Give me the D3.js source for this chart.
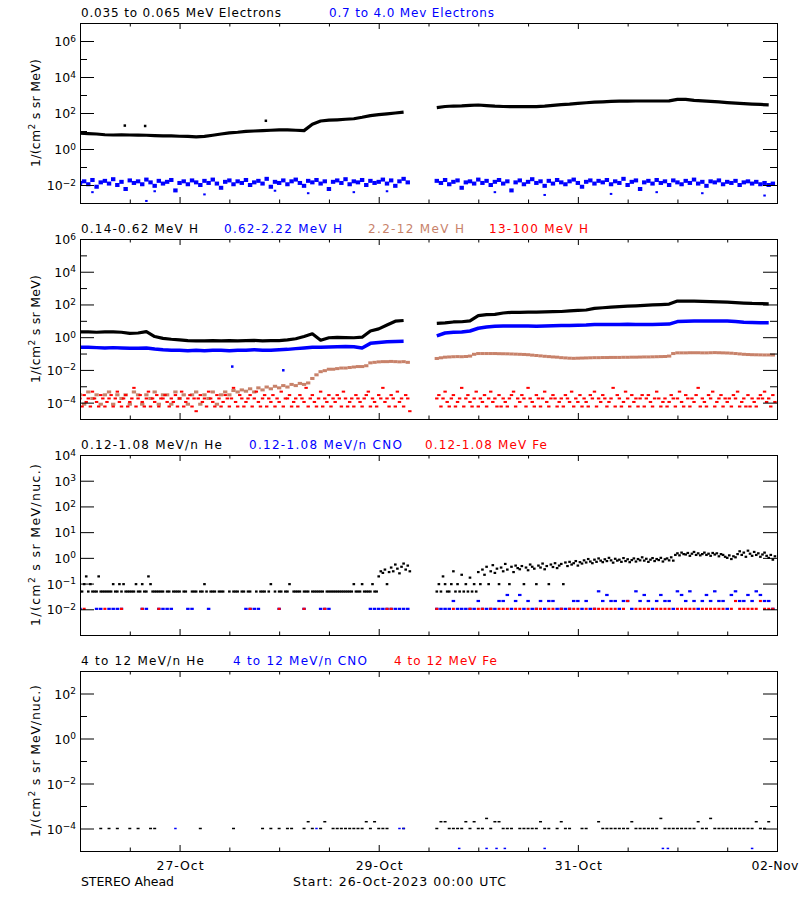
<!DOCTYPE html>
<html><head><meta charset="utf-8">
<script src="https://cdn.jsdelivr.net/npm/d3@7"></script>
<style>
html,body{margin:0;padding:0;background:#fff;}
svg text{font-family:"DejaVu Sans",sans-serif;}
</style></head><body>
<svg id="chart" width="800" height="900"></svg>
<script>
// ---------------- time base ----------------
const START = Date.UTC(2023, 9, 26);   // 26-Oct-2023 00:00 UTC
const END   = Date.UTC(2023, 10, 2);   // 02-Nov-2023 00:00 UTC
const PRE_T0 = 0;    // hour of first sample before the data gap
const POST_T0 = 86;  // hour of first sample after the data gap

// ---------------- tick labels ----------------
const xMajorHours = [24, 72, 120, 168];
const xMajorLabels = ["27-Oct", "29-Oct", "31-Oct", "02-Nov"];
const xMinorHours = [12, 36, 48, 60, 84, 96, 108, 132, 144, 156];

// ---------------- panel 1 : electrons ----------------
// 0.035-0.065 MeV electrons, 2-hour samples
const eLoPre = [7.5,7.2,6.8,6.2,6.0,6.2,6.0,5.9,5.8,5.5,5.3,5.3,5.1,5.0,4.7,5.0,5.8,6.8,7.8,8.5,
  9.5,10,10.5,11,11.5,11.5,11,10.5,24,36,40,42,45,48,58,72,82,90,100,112];
const eLoPost = [200,230,244,250,265,278,260,240,230,228,225,225,228,240,265,290,310,340,370,400,
  420,440,455,462,465,465,465,465,470,575,570,500,470,440,410,380,355,330,310,298,285];
const eLoSpikes = [[10.8,20],[15.7,19],[44.8,37]];
// 0.7-4.0 MeV electrons, 1-hour samples
const eHiPre = [0.013,0.016,0.011,0.019,0.008,0.014,0.017,0.012,0.021,0.010,
  0.015,0.006,0.018,0.013,0.016,0.011,0.020,0.014,0.009,0.017,
  0.012,0.015,0.019,0.005,0.013,0.016,0.011,0.018,0.014,0.010,
  0.017,0.013,0.020,0.012,0.007,0.015,0.018,0.011,0.016,0.013,
  0.019,0.010,0.014,0.017,0.012,0.022,0.008,0.015,0.013,0.018,
  0.011,0.016,0.020,0.013,0.009,0.017,0.014,0.019,0.012,0.016,
  0.006,0.015,0.018,0.013,0.021,0.011,0.016,0.014,0.019,0.010,
  0.017,0.013,0.015,0.020,0.012,0.018,0.009,0.016,0.022,0.014];
const eHiPost = [0.017,0.013,0.019,0.011,0.015,0.018,0.007,0.014,0.016,0.012,
  0.020,0.013,0.017,0.010,0.015,0.019,0.012,0.016,0.005,0.014,
  0.018,0.011,0.015,0.021,0.013,0.016,0.009,0.017,0.012,0.019,
  0.014,0.011,0.016,0.020,0.013,0.008,0.015,0.018,0.012,0.017,
  0.014,0.019,0.011,0.016,0.013,0.022,0.010,0.015,0.018,0.006,
  0.014,0.017,0.012,0.019,0.013,0.016,0.010,0.018,0.014,0.011,
  0.017,0.013,0.020,0.012,0.015,0.009,0.016,0.014,0.018,0.011,
  0.015,0.013,0.017,0.010,0.014,0.016,0.012,0.015,0.011,0.013,
  0.010,0.012];
const eHiLow = [[3,0.004],[16,0.0013],[18,0.0045],[30,0.003],[47,0.0048],[55,0.0035],[66,0.004],
  [74,0.0045],[100,0.004],[112,0.0028],[128,0.0032],[139,0.004],[150,0.0035],[165,0.0026]];

// ---------------- panel 2 : protons ----------------
// 0.14-0.62 MeV H, 2-hour samples
const hLoPre = [2.1,2.1,2.0,2.1,2.1,2.0,1.7,1.8,2.2,1.1,0.85,0.75,0.68,0.62,0.6,0.6,0.62,0.6,0.62,0.6,
  0.62,0.63,0.6,0.62,0.62,0.68,0.8,1.1,1.6,0.65,0.92,0.98,0.95,0.92,1.0,2.4,3.2,5.5,9.5,10.5];
const hLoPost = [7,7.5,8.5,8.8,10,21,24,25,30,33,33,34,34,35,36,37,40,43,46,58,
  63,68,73,78,83,88,93,98,105,162,160,158,155,150,145,138,130,122,115,112,110];
// 0.62-2.22 MeV H, 2-hour samples
const hMidPre = [0.24,0.24,0.23,0.22,0.23,0.22,0.21,0.21,0.22,0.19,0.17,0.16,0.16,0.15,0.16,0.15,0.16,0.16,0.15,0.16,
  0.16,0.17,0.16,0.16,0.17,0.18,0.2,0.22,0.24,0.24,0.25,0.26,0.27,0.26,0.22,0.42,0.48,0.52,0.55,0.56];
const hMidPost = [1.2,1.8,2.0,2.1,2.4,3.5,4.2,4.7,4.8,4.8,4.9,4.9,4.7,4.8,5.0,5.1,5.2,5.4,5.5,5.9,
  6.0,6.0,6.0,6.1,6.0,6.0,6.0,6.1,6.3,9.0,9.5,9.7,9.8,9.8,9.9,9.7,9.0,8.3,7.9,7.7,7.6];
const hMidOut = [[36.7,0.016],[49,0.0095]];
// 2.2-12 MeV H, 1-hour samples
const hHiPre = [3e-4,8e-5,4.5e-4,1.8e-4,3e-4,8e-5,3e-4,4.5e-4,8e-5,3e-4,
  1.8e-4,3e-4,8e-5,4.5e-4,3e-4,8e-5,3e-4,1.8e-4,4.5e-4,8e-5,
  3e-4,3e-4,8e-5,4.5e-4,1.8e-4,3e-4,8e-5,3e-4,4.5e-4,8e-5,
  3e-4,1.8e-4,4.5e-4,8e-5,3e-4,4.5e-4,3e-4,5.5e-4,4.5e-4,6e-4,
  5e-4,7e-4,4.5e-4,8e-4,6e-4,9e-4,7e-4,1e-3,8e-4,1.1e-3,
  9e-4,1.3e-3,1.1e-3,1.5e-3,1.3e-3,1.6e-3,3e-3,5e-3,7.8e-3,9e-3,
  0.011,0.011,0.012,0.013,0.013,0.014,0.015,0.016,0.016,0.018,
  0.027,0.029,0.031,0.032,0.032,0.033,0.032,0.031,0.032,0.029];
const hHiPost = [0.05,0.055,0.06,0.062,0.064,0.065,0.064,0.066,0.07,0.09,
  0.1,0.1,0.1,0.1,0.1,0.098,0.097,0.096,0.094,0.092,
  0.09,0.088,0.085,0.08,0.076,0.072,0.068,0.065,0.062,0.06,
  0.056,0.054,0.052,0.051,0.052,0.053,0.054,0.055,0.056,0.056,
  0.057,0.057,0.058,0.058,0.058,0.059,0.059,0.06,0.06,0.061,
  0.062,0.062,0.063,0.064,0.065,0.066,0.07,0.1,0.11,0.11,
  0.11,0.112,0.112,0.112,0.11,0.11,0.112,0.114,0.112,0.11,
  0.108,0.105,0.1,0.095,0.09,0.087,0.085,0.084,0.083,0.082,
  0.082,0.081];
// 13-100 MeV H, 30-minute samples
const hTopPre = [1.8e-4,5.8e-5,2.9e-4,1.1e-4,1.8e-4,5.8e-5,4.7e-4,1.8e-4,1.1e-4,5.8e-5,
  2.9e-4,1.8e-4,5.8e-5,1.1e-4,1.8e-4,2.9e-4,5.8e-5,1.8e-4,4.7e-4,1.1e-4,
  5.8e-5,1.8e-4,2.9e-4,5.8e-5,1.1e-4,1.8e-4,8e-4,5.8e-5,1.8e-4,2.9e-4,
  1.1e-4,5.8e-5,1.8e-4,4.7e-4,5.8e-5,1.8e-4,1.1e-4,2.9e-4,5.8e-5,1.8e-4,
  1.8e-4,2.9e-4,1.1e-4,5.8e-5,1.8e-4,1.1e-4,2.9e-4,5.8e-5,1.8e-4,4.7e-4,
  5.8e-5,1.1e-4,1.8e-4,2.9e-4,5.8e-5,1.8e-4,3e-5,1.8e-4,2.9e-4,1.1e-4,
  1.8e-4,5.8e-5,4.7e-4,1.8e-4,1.1e-4,5.8e-5,2.9e-4,1.8e-4,5.8e-5,1.1e-4,
  2.9e-4,1.8e-4,5.8e-5,1.8e-4,8e-4,1.1e-4,5.8e-5,2.9e-4,1.8e-4,5.8e-5,
  1.1e-4,1.8e-4,2.9e-4,5.8e-5,1.8e-4,4.7e-4,1.1e-4,5.8e-5,1.8e-4,2.9e-4,
  5.8e-5,1.8e-4,1.1e-4,2.9e-4,5.8e-5,1.8e-4,1.1e-4,4.7e-4,5.8e-5,1.8e-4,
  1.8e-4,2.9e-4,5.8e-5,1.1e-4,1.8e-4,5.8e-5,2.9e-4,1.8e-4,1.1e-4,8e-4,
  5.8e-5,1.8e-4,2.9e-4,1.1e-4,5.8e-5,1.8e-4,4.7e-4,5.8e-5,1.8e-4,1.1e-4,
  2.9e-4,5.8e-5,1.8e-4,1.1e-4,2.9e-4,1.8e-4,5.8e-5,4.7e-4,1.8e-4,5.8e-5,
  1.1e-4,1.8e-4,5.8e-5,2.9e-4,1.8e-4,1.1e-4,5.8e-5,1.8e-4,2.9e-4,4.7e-4,
  5.8e-5,1.8e-4,1.1e-4,5.8e-5,2.9e-4,1.8e-4,8e-4,1.1e-4,1.8e-4,5.8e-5,
  2.9e-4,1.8e-4,5.8e-5,4.7e-4,1.1e-4,1.8e-4,5.8e-5,2.9e-4,1.8e-4,3e-5];
const hTopPost = [1.8e-4,2.9e-4,5.8e-5,1.8e-4,4.7e-4,1.1e-4,5.8e-5,1.8e-4,2.9e-4,5.8e-5,
  1.1e-4,1.8e-4,8e-4,5.8e-5,1.8e-4,2.9e-4,1.1e-4,5.8e-5,1.8e-4,4.7e-4,
  5.8e-5,1.8e-4,1.1e-4,2.9e-4,5.8e-5,1.8e-4,4.7e-4,1.1e-4,1.8e-4,5.8e-5,
  2.9e-4,5.8e-5,1.8e-4,1.1e-4,5.8e-5,1.8e-4,2.9e-4,4.7e-4,5.8e-5,1.8e-4,
  1.1e-4,2.9e-4,1.8e-4,5.8e-5,8e-4,1.8e-4,1.1e-4,5.8e-5,2.9e-4,1.8e-4,
  5.8e-5,1.8e-4,4.7e-4,1.1e-4,5.8e-5,1.8e-4,2.9e-4,1.8e-4,5.8e-5,1.1e-4,
  1.8e-4,5.8e-5,2.9e-4,1.8e-4,1.1e-4,4.7e-4,5.8e-5,1.8e-4,1.1e-4,2.9e-4,
  5.8e-5,1.8e-4,1.1e-4,5.8e-5,2.9e-4,1.8e-4,4.7e-4,5.8e-5,1.8e-4,1.1e-4,
  2.9e-4,1.8e-4,5.8e-5,1.1e-4,1.8e-4,8e-4,5.8e-5,2.9e-4,1.8e-4,5.8e-5,
  1.1e-4,4.7e-4,1.8e-4,5.8e-5,2.9e-4,1.1e-4,1.8e-4,5.8e-5,1.8e-4,2.9e-4,
  5.8e-5,1.8e-4,2.9e-4,1.1e-4,5.8e-5,1.8e-4,4.7e-4,1.8e-4,5.8e-5,1.1e-4,
  1.8e-4,5.8e-5,1.1e-4,2.9e-4,1.8e-4,5.8e-5,1.8e-4,4.7e-4,1.1e-4,5.8e-5,
  2.9e-4,1.8e-4,5.8e-5,1.8e-4,1.1e-4,2.9e-4,8e-4,5.8e-5,1.8e-4,1.1e-4,
  5.8e-5,2.9e-4,1.8e-4,4.7e-4,5.8e-5,1.1e-4,1.8e-4,2.9e-4,5.8e-5,1.8e-4,
  1.1e-4,1.8e-4,5.8e-5,2.9e-4,1.8e-4,4.7e-4,5.8e-5,1.1e-4,1.8e-4,5.8e-5,
  2.9e-4,5.8e-5,1.8e-4,1.1e-4,5.8e-5,1.8e-4,2.9e-4,1.8e-4,4.7e-4,1.1e-4,
  1.8e-4,5.8e-5,2.9e-4,1.1e-4];

// ---------------- panel 3 : 0.12-1.08 MeV/n heavy ions ----------------
// He, 30-minute samples (null = no counts)
const heLPre = [0.049,0.049,0.095,0.19,0.049,0.095,0.049,0.049,0.049,0.19,0.049,0.049,0.049,0.049,0.049,0.049,0.095,0.049,0.049,0.095,
  0.049,0.095,0.049,0.049,0.049,0.049,0.049,0.095,0.049,0.049,0.095,0.049,0.049,0.19,0.095,0.049,0.049,0.049,0.049,0.049,
  0.049,null,0.049,0.049,null,0.049,0.049,0.049,0.049,null,0.049,0.049,null,null,0.049,0.049,0.049,null,0.049,0.049,
  0.095,0.049,null,0.049,0.049,0.049,null,0.049,0.049,0.049,null,null,0.049,null,0.049,0.049,0.049,null,0.049,0.049,
  null,0.049,0.049,null,null,0.049,null,0.049,0.049,0.049,null,0.049,0.095,null,0.049,null,0.049,0.049,null,0.049,
  0.049,0.095,null,0.049,0.049,0.049,0.049,null,0.049,0.049,0.049,null,0.049,0.049,0.049,0.049,0.049,0.049,null,0.049,
  0.049,0.049,0.049,0.049,0.049,0.049,0.049,0.049,0.049,0.049,0.049,0.049,0.095,0.049,0.049,0.049,0.095,0.049,0.049,0.049,
  0.049,0.095,0.049,0.049,0.19,0.3,0.26,0.35,0.095,0.28,0.42,0.3,0.55,0.38,0.25,0.45,0.6,0.35,0.5,0.3];
const heLPost = [0.049,0.095,0.049,0.19,0.095,0.049,0.049,0.095,0.3,0.049,0.095,0.049,0.22,0.049,0.095,0.049,0.17,0.049,0.095,0.049,
  0.28,0.095,0.35,0.22,0.45,0.095,0.3,0.52,0.26,0.38,0.095,0.42,0.3,0.58,0.35,0.095,0.45,0.28,0.5,0.4,
  0.36,0.48,0.095,0.42,0.33,0.55,0.45,0.38,0.095,0.5,0.42,0.6,0.36,0.48,0.095,0.55,0.44,0.62,0.4,0.5,
  0.58,0.095,0.66,0.48,0.7,0.55,0.62,0.75,0.5,0.68,0.6,0.8,0.66,0.9,0.72,0.62,0.85,0.7,0.95,0.78,
  0.68,0.88,0.75,1.0,0.8,0.65,0.92,0.78,0.85,0.7,0.98,0.75,0.88,0.68,0.82,0.95,0.72,0.9,0.8,1.05,
  0.78,0.92,0.7,0.85,0.98,0.75,0.9,0.82,1.0,0.72,0.88,0.95,0.8,1.05,0.78,1.3,1.5,1.25,1.6,1.4,
  1.35,1.55,1.2,1.45,1.7,1.3,1.5,1.25,1.4,1.6,1.3,1.45,1.2,1.55,1.35,1.5,1.15,1.4,1.3,1.1,
  1.0,1.25,0.9,1.15,1.05,1.4,1.8,1.3,1.6,1.1,1.9,1.45,1.2,1.7,1.3,1.5,1.1,1.35,1.6,1.2,
  1.0,1.3,0.85,1.15];
// CNO, 1-hour samples
const cnoLPre = [0.0104,null,null,null,0.0104,0.0104,null,0.0104,0.0104,0.0104,
  0.0104,null,null,null,null,0.0104,0.0104,null,null,0.0104,
  0.0104,0.0104,0.0104,null,null,null,0.0104,0.0104,null,null,
  null,0.0104,null,null,null,null,null,null,null,null,
  0.0104,0.0104,0.0104,0.0104,null,null,null,null,0.0104,null,
  null,null,null,null,0.0104,null,null,null,0.0104,0.0104,
  0.0104,null,null,null,null,null,null,null,null,null,
  0.0104,0.0104,0.0104,0.0104,0.0104,0.0104,0.0104,0.0104,0.0104,0.0104];
const cnoLPost = [0.0104,0.0104,0.0104,0.0104,0.021,0.0104,0.0104,0.0104,0.0104,0.0104,
  0.021,0.0104,0.0104,0.0104,0.0104,0.021,0.021,0.036,0.0104,0.021,
  0.036,0.0104,0.021,0.0104,0.0104,0.021,0.0104,0.021,0.021,0.0104,
  0.0104,0.0104,0.0104,0.021,0.021,0.0104,0.021,0.0104,0.0104,0.05,
  0.021,0.036,0.021,0.021,0.0104,0.021,0.021,0.0104,0.05,0.021,
  0.036,0.021,0.0104,0.021,0.036,0.021,0.021,0.0104,0.05,0.036,
  0.021,0.05,0.021,0.0104,0.021,0.036,0.021,0.05,0.021,0.021,
  0.0104,0.036,0.05,0.021,0.021,0.036,0.021,0.05,0.036,0.021,
  0.021,0.0104];
// Fe, 1-hour samples
const feLPre = [null,0.0104,null,null,null,null,0.0104,null,null,null,
  0.0104,null,null,null,null,0.0104,null,null,null,0.0104,
  null,null,null,null,null,null,null,null,null,null,
  null,null,null,null,null,null,null,null,null,null,
  null,0.0104,null,null,null,null,null,null,0.0104,null,
  null,null,null,null,0.0104,null,null,null,null,0.0104,
  null,null,null,null,null,null,null,null,null,null,
  null,null,null,null,0.0104,0.0104,null,null,null,null];
const feLPost = [0.0104,null,null,null,0.0104,null,null,null,0.0104,null,
  0.0104,0.0104,null,0.0104,null,0.0104,0.0104,0.0104,null,0.0104,
  0.0104,null,0.0104,null,0.0104,0.0104,null,0.0104,0.0104,null,
  0.0104,null,0.0104,0.0104,0.0104,null,0.0104,null,0.0104,0.0104,
  0.0104,0.0104,0.0104,0.0104,null,0.0104,0.021,null,0.0104,0.0104,
  0.0104,0.0104,null,0.0104,0.0104,0.0104,0.0104,null,0.0104,0.0104,
  0.0104,0.0104,0.0104,null,0.0104,0.0104,0.0104,0.0104,0.0104,0.0104,
  null,0.0104,0.021,0.0104,0.0104,0.0104,0.0104,0.0104,0.021,0.0104,
  0.0104,0.0104];

// ---------------- panel 4 : 4-12 MeV/n heavy ions ----------------
// He, 1-hour samples
const heHPre = [null,null,null,null,null,1e-4,null,1e-4,null,1e-4,
  null,null,1e-4,null,1e-4,null,null,1e-4,1e-4,null,
  null,null,null,null,null,null,null,null,null,1e-4,
  null,null,null,null,null,null,null,1e-4,null,null,
  null,null,null,null,1e-4,null,1e-4,null,1e-4,null,
  1e-4,1e-4,null,null,1e-4,2e-4,1e-4,null,1e-4,2e-4,
  null,1e-4,1e-4,1e-4,1e-4,1e-4,1e-4,1e-4,1e-4,2e-4,
  1e-4,2e-4,1e-4,1e-4,1e-4,null,null,null,1e-4,null];
const heHPost = [1e-4,2e-4,2e-4,1e-4,1e-4,1e-4,1e-4,2e-4,1e-4,2e-4,
  1e-4,1e-4,2.8e-4,1e-4,2e-4,2e-4,1e-4,1e-4,1e-4,null,
  1e-4,1e-4,1e-4,1e-4,1e-4,2e-4,1e-4,1e-4,null,1e-4,
  2e-4,1e-4,1e-4,null,null,1e-4,1e-4,null,null,2e-4,
  1e-4,1e-4,1e-4,1e-4,1e-4,1e-4,1e-4,2e-4,1e-4,1e-4,
  1e-4,1e-4,1e-4,1e-4,2.8e-4,1e-4,1e-4,1e-4,1e-4,1e-4,
  1e-4,1e-4,1e-4,2e-4,1e-4,1e-4,2.8e-4,1e-4,1e-4,1e-4,
  1e-4,1e-4,1e-4,1e-4,1e-4,1e-4,1e-4,2e-4,1e-4,1e-4,
  2e-4,null];
// CNO and Fe: individual non-zero samples [hour, value]
const cnoHPts = [[23,1e-4],[57,1e-4],[77,1e-4],[78,1e-4],[91.4,1.3e-5],[98,1.3e-5],[100.4,1.3e-5],
  [102.4,1.3e-5],[112,1.3e-5],[140.5,1.3e-5],[141.7,1.3e-5],[162,1.3e-5]];
const feHPts = [];

// ---------------- titles ----------------
const panelTitles = [
  ["0.035 to 0.065 MeV Electrons", "0.7 to 4.0 Mev Electrons"],
  ["0.14-0.62 MeV H", "0.62-2.22 MeV H", "2.2-12 MeV H", "13-100 MeV H"],
  ["0.12-1.08 MeV/n He", "0.12-1.08 MeV/n CNO", "0.12-1.08 MeV Fe"],
  ["4 to 12 MeV/n He", "4 to 12 MeV/n CNO", "4 to 12 MeV Fe"]
];
const yUnits = ["MeV)", "MeV)", "MeV/nuc.)", "MeV/nuc.)"];

// ================= drawing =================
const BLACK = "#000000", BLUE = "#0000ff", BROWN = "#c8826a", RED = "#ff0000";
const L = 80, R = 777, PH = 180;
const layout = [
  {top: 23,  dom: [1e-3, 1e7], major: [-2,0,2,4,6], minor: [-1,1,3,5], tx: [[81,200],[329,165]], ylen: 108},
  {top: 239, dom: [1e-5, 1e6], major: [-4,-2,0,2,4,6], minor: [-3,-1,1,3,5], tx: [[81,117],[224,118],[368,96],[489,99]], ylen: 108},
  {top: 455, dom: [1e-3, 1e4], major: [-2,-1,0,1,2,3,4], minor: [], tx: [[81,141],[249,153],[425,122]], ylen: 162},
  {top: 671, dom: [1e-5, 1e3], major: [-4,-2,0,2], minor: [-3,-1,1], tx: [[81,123],[233,134],[394,103]], ylen: 152}
];
const titleColors = [[BLACK, BLUE], [BLACK, BLUE, BROWN, RED], [BLACK, BLUE, RED], [BLACK, BLUE, RED]];

const hr = h => new Date(START + h * 3.6e6);
const fromArray = (arr, t0, step) => arr.map((v, i) => ({t: hr(t0 + i * step), v})).filter(d => d.v != null);
const fromPairs = pairs => pairs.map(([h, v]) => ({t: hr(h), v}));

const svg = d3.select("#chart");
svg.append("rect").attr("width", 800).attr("height", 900).attr("fill", "#fff");
const x = d3.scaleUtc().domain([new Date(START), new Date(END)]).range([L, R]);

const seriesDefs = [
  [
    {type: "line", parts: [fromArray(eLoPre, PRE_T0, 2), fromArray(eLoPost, POST_T0, 2)], color: BLACK, sw: 3.2},
    {type: "pts", data: fromPairs(eLoSpikes), color: BLACK, w: 2.5, h: 2.5},
    {type: "pts", data: fromArray(eHiPre, PRE_T0, 1).concat(fromArray(eHiPost, POST_T0, 1)), color: BLUE, w: 4.4, h: 4},
    {type: "pts", data: fromPairs(eHiLow), color: BLUE, w: 2.5, h: 2}
  ],
  [
    {type: "line", parts: [fromArray(hLoPre, PRE_T0, 2), fromArray(hLoPost, POST_T0, 2)], color: BLACK, sw: 3.2},
    {type: "line", parts: [fromArray(hMidPre, PRE_T0, 2), fromArray(hMidPost, POST_T0, 2)], color: BLUE, sw: 3.5},
    {type: "pts", data: fromPairs(hMidOut), color: BLUE, w: 2.5, h: 2.5},
    {type: "pts", data: fromArray(hHiPre, PRE_T0, 1).concat(fromArray(hHiPost, POST_T0, 1)), color: BROWN, w: 4.3, h: 3},
    {type: "pts", data: fromArray(hTopPre, PRE_T0, 0.5).concat(fromArray(hTopPost, POST_T0, 0.5)), color: RED, w: 3.4, h: 2}
  ],
  [
    {type: "pts", data: fromArray(heLPre, PRE_T0, 0.5).concat(fromArray(heLPost, POST_T0, 0.5)), color: BLACK, w: 2.6, h: 2.2},
    {type: "pts", data: fromArray(cnoLPre, PRE_T0, 1).concat(fromArray(cnoLPost, POST_T0, 1)), color: BLUE, w: 3.5, h: 2.2},
    {type: "pts", data: fromArray(feLPre, PRE_T0, 1).concat(fromArray(feLPost, POST_T0, 1)), color: RED, w: 3, h: 2.2}
  ],
  [
    {type: "pts", data: fromArray(heHPre, PRE_T0, 1).concat(fromArray(heHPost, POST_T0, 1)), color: BLACK, w: 3, h: 1.5},
    {type: "pts", data: fromPairs(cnoHPts), color: BLUE, w: 2.5, h: 1.5},
    {type: "pts", data: fromPairs(feHPts), color: RED, w: 2.5, h: 1.5}
  ]
];

layout.forEach((p, pi) => {
  const top = p.top, bot = top + PH;
  const y = d3.scaleLog().domain(p.dom).range([bot, top]);
  const g = svg.append("g");
  const clipId = "clip" + pi;
  svg.append("clipPath").attr("id", clipId).append("rect")
    .attr("x", L).attr("y", top).attr("width", R - L).attr("height", PH);
  const dg = g.append("g").attr("clip-path", `url(#${clipId})`);

  seriesDefs[pi].forEach(s => {
    if (s.type === "line") {
      const line = d3.line().x(d => x(d.t)).y(d => y(d.v));
      s.parts.forEach(part => {
        dg.append("path").attr("d", line(part)).attr("fill", "none")
          .attr("stroke", s.color).attr("stroke-width", s.sw).attr("stroke-linejoin", "round");
      });
    } else {
      dg.selectAll(null).data(s.data).join("rect")
        .attr("x", d => x(d.t) - s.w / 2).attr("y", d => y(d.v) - s.h / 2)
        .attr("width", s.w).attr("height", s.h).attr("fill", s.color);
    }
  });

  // frame
  g.append("rect").attr("x", L + 0.5).attr("y", top + 0.5).attr("width", R - L).attr("height", PH)
    .attr("fill", "none").attr("stroke", BLACK).attr("stroke-width", 1);

  // y axes
  const majV = p.major.map(e => Math.pow(10, e));
  const minV = p.minor.map(e => Math.pow(10, e));
  const yl = g.append("g").attr("transform", `translate(${L},0)`)
    .call(d3.axisLeft(y).tickValues(majV).tickSize(-14).tickPadding(4).tickFormat(() => ""));
  yl.attr("font-family", null).attr("font-size", null);
  yl.select(".domain").remove();
  yl.selectAll(".tick text").each(function(d) {
    const e = Math.round(Math.log10(d));
    const t = d3.select(this).attr("font-size", 12.5).attr("fill", BLACK).attr("dy", "0.36em");
    t.text(null);
    t.append("tspan").text("10");
    t.append("tspan").attr("dy", "-0.5em").attr("font-size", 9).text(e < 0 ? "\u2212" + (-e) : String(e));
  });
  const ylm = g.append("g").attr("transform", `translate(${L},0)`)
    .call(d3.axisLeft(y).tickValues(minV).tickSize(-7).tickFormat(() => ""));
  ylm.select(".domain").remove();
  [[majV, 14], [minV, 7]].forEach(([vals, sz]) => {
    const ar = g.append("g").attr("transform", `translate(${R},0)`)
      .call(d3.axisRight(y).tickValues(vals).tickSize(-sz).tickFormat(() => ""));
    ar.select(".domain").remove();
  });

  // x axes (top and bottom)
  const majD = xMajorHours.map(hr), minD = xMinorHours.map(hr);
  const last = pi === layout.length - 1;
  [[majD, 6], [minD, 3.5]].forEach(([vals, sz], k) => {
    const ab = g.append("g").attr("transform", `translate(0,${bot})`)
      .call(d3.axisBottom(x).tickValues(vals).tickSize(-sz).tickPadding(10)
        .tickFormat((d, i) => (last && k === 0) ? xMajorLabels[i] : ""));
    ab.select(".domain").remove();
    ab.attr("font-family", null).attr("font-size", null);
    ab.selectAll(".tick text").attr("font-size", 12.5).attr("fill", BLACK)
      .attr("textLength", 47).attr("lengthAdjust", "spacing")
      .attr("dx", (d, i) => i === vals.length - 1 ? -2.5 : 0);
    const at = g.append("g").attr("transform", `translate(0,${top})`)
      .call(d3.axisTop(x).tickValues(vals).tickSize(-sz).tickFormat(() => ""));
    at.select(".domain").remove();
  });

  // panel titles
  panelTitles[pi].forEach((txt, i) => {
    g.append("text").attr("x", p.tx[i][0]).attr("y", top - 6)
      .attr("font-size", 12).attr("fill", titleColors[pi][i])
      .attr("textLength", p.tx[i][1]).attr("lengthAdjust", "spacing").text(txt);
  });

  // y title
  const yt = g.append("text").attr("transform", `translate(40,${top + PH / 2}) rotate(-90)`)
    .attr("text-anchor", "middle").attr("font-size", 12.5).attr("fill", BLACK)
    .attr("textLength", p.ylen).attr("lengthAdjust", "spacing");
  yt.append("tspan").text("1/(cm");
  yt.append("tspan").attr("dy", -5).attr("font-size", 9).text("2");
  yt.append("tspan").attr("dy", 5).text(" s sr " + yUnits[pi]);
});

// footer
svg.append("text").attr("x", 81).attr("y", 886).attr("font-size", 12.5).attr("fill", BLACK)
  .attr("textLength", 93).attr("lengthAdjust", "spacing").text("STEREO Ahead");
svg.append("text").attr("x", 293).attr("y", 886).attr("font-size", 12.5).attr("fill", BLACK)
  .attr("textLength", 213).attr("lengthAdjust", "spacing").text("Start: 26-Oct-2023 00:00 UTC");
</script>
</body></html>
